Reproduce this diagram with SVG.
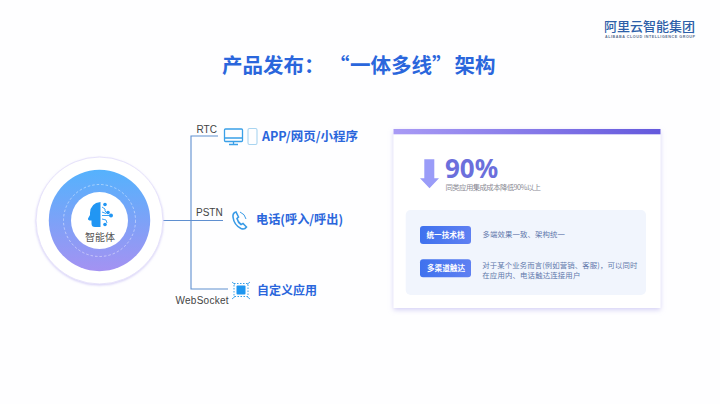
<svg xmlns="http://www.w3.org/2000/svg" width="720" height="404" viewBox="0 0 720 404">
<style>
text{font-family:"Noto Sans CJK SC","Liberation Sans",sans-serif}
.b{fill:#2a66dc;font-weight:700}
.lbl{fill:#444;font-size:10px;font-family:"Liberation Sans","Noto Sans CJK SC",sans-serif}
.d{fill:#5f78ab;font-size:7.4px}
.pill{fill:url(#pill)}
.pt{fill:#fff;font-size:7.6px;font-weight:700;text-anchor:middle}
.ic{fill:none;stroke:#3aa0e8;stroke-width:1.3}
.con{fill:none;stroke:#5f8fd0;stroke-width:1.1}
</style>
<defs>
<linearGradient id="ring" x1="0" y1="0" x2="0" y2="1"><stop offset="0" stop-color="#55b2fd"/><stop offset="1" stop-color="#a492f2"/></linearGradient>
<linearGradient id="bar" x1="0" y1="0" x2="1" y2="0"><stop offset="0" stop-color="#a99bf5"/><stop offset="1" stop-color="#6459dc"/></linearGradient>
<linearGradient id="pill" x1="0" y1="0" x2="1" y2="0"><stop offset="0" stop-color="#3f72ee"/><stop offset="1" stop-color="#5f80f2"/></linearGradient>
<filter id="sh" x="-10%" y="-10%" width="120%" height="125%"><feDropShadow dx="0" dy="2" stdDeviation="2.5" flood-color="#b9b2ee" flood-opacity=".6"/></filter>
<filter id="sh2" x="-10%" y="-10%" width="120%" height="125%"><feDropShadow dx="0" dy="1" stdDeviation="1.200" flood-color="#c4bcf4" flood-opacity=".7"/></filter>
</defs>
<rect width="720" height="404" fill="#fefeff"/>
<g id="logo">
<text x="604" y="31" font-size="13" font-weight="500" fill="#2d5fa8">阿里云智能集团</text>
<text x="605" y="37.500" font-size="3.700" font-weight="700" fill="#5a6f90" textLength="90" style="font-family:'Liberation Sans',sans-serif">ALIBABA CLOUD INTELLIGENCE GROUP</text>
</g>
<text id="title" class="b" y="73" font-size="20.500"><tspan x="222">产品发布：</tspan><tspan x="329">“</tspan><tspan x="350">一体多线</tspan><tspan x="432">”</tspan><tspan x="454.500">架构</tspan></text>
<g id="connectors">
<path class="con" d="M163 220.500H223M218 136H191V289H228"/>
</g>
<g id="agent">
<circle cx="99.500" cy="220.500" r="63.500" fill="#fff" stroke="#e6e2fa" stroke-width="1" filter="url(#sh2)"/>
<circle cx="99.500" cy="220.500" r="50.700" fill="url(#ring)"/>
<circle cx="99.500" cy="220.500" r="36" fill="none" stroke="#fff" stroke-opacity=".55" stroke-width=".8" stroke-dasharray="2.500 2"/>
<circle cx="99.500" cy="220.500" r="28.500" fill="#fff"/>
<path fill="#2196f3" d="M100.500 202V227H95Q91.500 227 91.500 223.500V220.500H89.500Q87.500 220 88 218.500L90 215V213Q90.500 203 100.500 202Z"/>
<path fill="none" stroke="#2196f3" stroke-width=".9" d="M102 207l3 2v2l2 2M102 215.500h8M102 212l4 1.500M102 219l4 1 1 3"/>
<g fill="#2196f3"><circle cx="105" cy="204.500" r="1.800"/><circle cx="108" cy="212.500" r="1.800"/><circle cx="111" cy="215.500" r="2"/><circle cx="105" cy="224.500" r="1.800"/></g>
<text x="100" y="241" font-size="10" fill="#555" text-anchor="middle">智能体</text>
</g>
<g id="rtc">
<text class="lbl" x="196.500" y="132.500">RTC</text>
<rect class="ic" x="224.500" y="129" width="18" height="12.500" rx="1"/>
<path class="ic" d="M224.500 138H242.500M233.500 141.500V144.500M229 144.500H238"/>
<rect x="248" y="128.500" width="9" height="16" rx="1.500" fill="none" stroke="#a8d4f0" stroke-width="1.100"/>
<text class="b" x="262" y="141" font-size="12.500" textLength="96" lengthAdjust="spacingAndGlyphs">APP/网页/小程序</text>
</g>
<g id="pstn">
<text class="lbl" x="196" y="216">PSTN</text>
<path fill="none" stroke="#3a9be6" stroke-width="1.600" d="M236 212Q232.500 213 233 217 234 225 241 228.500 244.500 230 246.500 227L243 223.500 241 224.500Q238 222.500 237 218.500L238.500 217Z"/>
<path fill="none" stroke="#3a9be6" stroke-width="1" d="M240 212Q245 214 246 219"/>
<text class="b" x="256" y="224" font-size="12.500" textLength="87" lengthAdjust="spacingAndGlyphs">电话(呼入/呼出)</text>
</g>
<g id="websocket">
<text class="lbl" x="175.500" y="304" textLength="53">WebSocket</text>
<rect x="236.500" y="285.500" width="9" height="9" rx="1" fill="#1e96f0"/>
<path fill="none" stroke="#3aa0e8" stroke-width="1" stroke-dasharray="1.500 1.500" d="M234 283.500h14v13h-14z"/>
<path fill="none" stroke="#3aa0e8" stroke-width=".9" d="M232 282l3 2.500M250 282l-3 2.500M232 299l3-2.500M250 299l-3-2.500"/>
<text class="b" x="257" y="295" font-size="12">自定义应用</text>
</g>
<g id="card">
<rect x="393.500" y="129" width="267" height="179" fill="#fff" filter="url(#sh)"/>
<rect x="393.500" y="129" width="267" height="5.300" fill="url(#bar)"/>
<rect x="405.700" y="210" width="240.300" height="85" rx="5" fill="#f1f5fd"/>
<path fill="#9a9cf8" d="M424.300 159.300H434.300V178.300H439L429.500 188.300 420 178.300H424.300Z"/>
<text x="445" y="178" font-size="26" font-weight="700" fill="#6b6fdc" style="font-family:'Noto Sans','Liberation Sans',sans-serif">90%</text>
<text x="445.500" y="189.500" font-size="7.400" fill="#8b8b95" textLength="95.500">同类应用集成成本降低90%以上</text>
<rect class="pill" x="420" y="226" width="51" height="18" rx="3"/>
<text class="pt" x="445.500" y="238">统一技术栈</text>
<text class="d" x="482.500" y="237" textLength="82.500">多端效果一致、架构统一</text>
<rect class="pill" x="420" y="259.300" width="51" height="18" rx="3"/>
<text class="pt" x="446" y="271.300">多渠道触达</text>
<text class="d" x="482.300" y="268" textLength="155">对于某个业务而言(例如营销、客服)，可以同时</text>
<text class="d" x="482.300" y="277.500" textLength="98">在应用内、电话触达连接用户</text>
</g>
</svg>
